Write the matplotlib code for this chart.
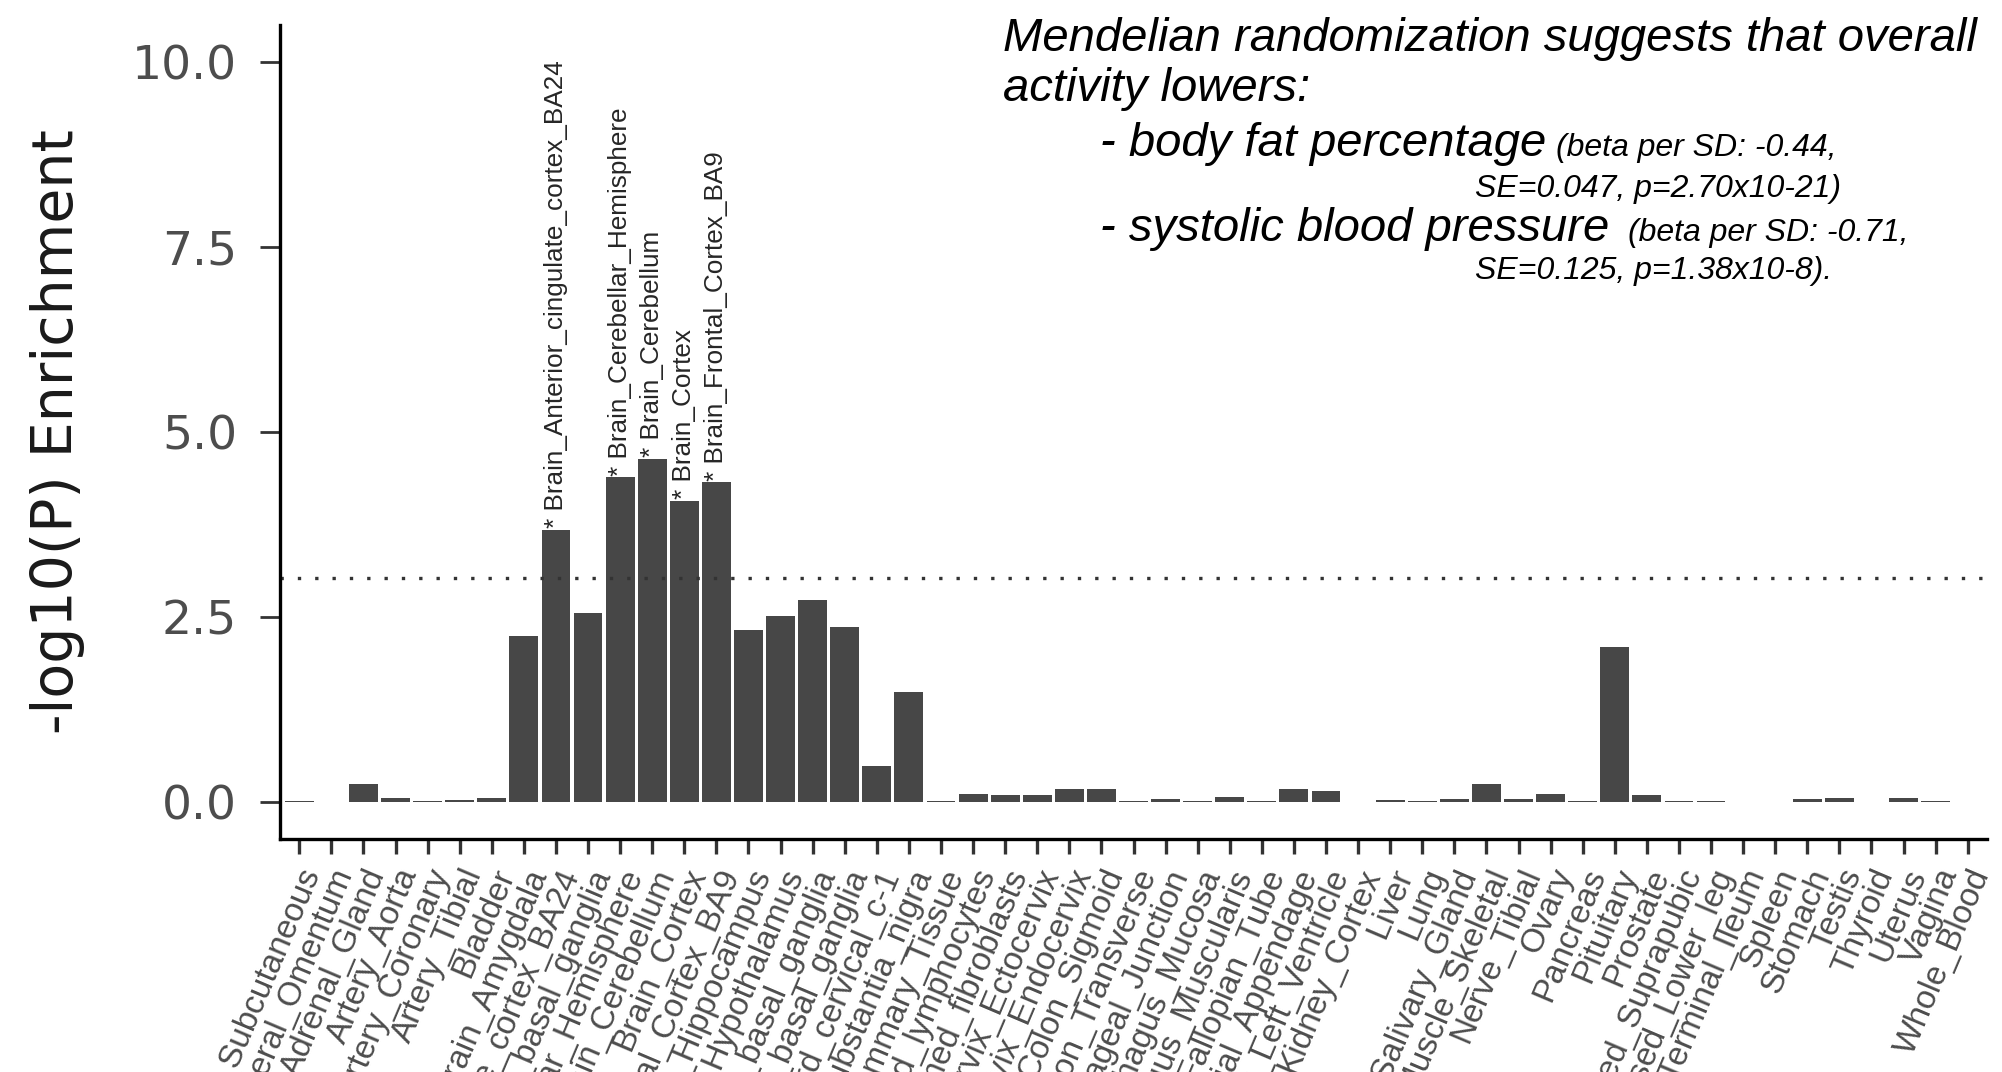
# GTEx tissue enrichment bar chart with MR note

import matplotlib
matplotlib.use('Agg')
import matplotlib.pyplot as plt

plt.rcParams['font.family'] = ['Liberation Sans', 'DejaVu Sans']

# ============================================
# DATA
# ============================================

tissues = ['Adipose_Subcutaneous', 'Adipose_Visceral_Omentum', 'Adrenal_Gland',
           'Artery_Aorta', 'Artery_Coronary', 'Artery_Tibial', 'Bladder',
           'Brain_Amygdala', 'Brain_Anterior_cingulate_cortex_BA24',
           'Brain_Caudate_basal_ganglia', 'Brain_Cerebellar_Hemisphere',
           'Brain_Cerebellum', 'Brain_Cortex', 'Brain_Frontal_Cortex_BA9',
           'Brain_Hippocampus', 'Brain_Hypothalamus',
           'Brain_Nucleus_accumbens_basal_ganglia', 'Brain_Putamen_basal_ganglia',
           'Brain_Spinal_cord_cervical_c-1', 'Brain_Substantia_nigra',
           'Breast_Mammary_Tissue', 'Cells_EBV-transformed_lymphocytes',
           'Cells_Transformed_fibroblasts', 'Cervix_Ectocervix', 'Cervix_Endocervix',
           'Colon_Sigmoid', 'Colon_Transverse', 'Esophagus_Gastroesophageal_Junction',
           'Esophagus_Mucosa', 'Esophagus_Muscularis', 'Fallopian_Tube',
           'Heart_Atrial_Appendage', 'Heart_Left_Ventricle', 'Kidney_Cortex',
           'Liver', 'Lung', 'Minor_Salivary_Gland', 'Muscle_Skeletal', 'Nerve_Tibial',
           'Ovary', 'Pancreas', 'Pituitary', 'Prostate',
           'Skin_Not_Sun_Exposed_Suprapubic', 'Skin_Sun_Exposed_Lower_leg',
           'Small_Intestine_Terminal_Ileum', 'Spleen', 'Stomach', 'Testis',
           'Thyroid', 'Uterus', 'Vagina', 'Whole_Blood']

# -log10(P)
enrichment = [0.01, 0.003, 0.25, 0.06, 0.02, 0.03, 0.06,
              2.24, 3.68, 2.56, 4.39, 4.64, 4.07, 4.32, 2.32, 2.51, 2.73, 2.36, 0.49, 1.48,
              0.01, 0.11, 0.09, 0.09, 0.17, 0.17, 0.01, 0.045, 0.01, 0.07, 0.02, 0.17, 0.15,
              0.005, 0.025, 0.01, 0.045, 0.25, 0.04, 0.11, 0.02,
              2.10, 0.09, 0.02, 0.02, 0.005, 0.003, 0.035, 0.06, 0.005, 0.06, 0.02, 0.005]

# Bonferroni line: -log10(0.05 / 53)
threshold = 3.025

yticks = [0.0, 2.5, 5.0, 7.5, 10.0]

note_title = ['Mendelian randomization suggests that overall', 'activity lowers:']
note_traits = ['- body fat percentage', '- systolic blood pressure']
note_beta = ['(beta per SD: -0.44,', '(beta per SD: -0.71,']
note_stats = ['SE=0.047, p=2.70x10-21)', 'SE=0.125, p=1.38x10-8).']

# ============================================
# FIGURE
# ============================================

W, H = 2002, 1072
fig = plt.figure(figsize=(W / 100, H / 100), dpi=100)
ax = fig.add_axes([280 / W, 1 - 839 / H, 1707 / W, 814 / H])

x = list(range(len(tissues)))
ax.bar(x, enrichment, width=0.9, color='#474747', edgecolor='none')
ax.axhline(threshold, color='#333333', linewidth=2.4, linestyle=(0, (1, 4.2)))

# label the significant tissues
for i, v in enumerate(enrichment):
    if v > threshold:
        ax.annotate('* ' + tissues[i], xy=(i, v), xytext=(0, 1),
                    textcoords='offset points', rotation=90,
                    rotation_mode='anchor', ha='left', va='center',
                    fontsize=18.8, color='#262626')

ax.set_xlim(-0.6, len(tissues) - 0.4)
ax.set_ylim(-0.5, 10.5)

ax.set_xticks(x)
ax.set_xticklabels(tissues, rotation=67, ha='right', va='top',
                   rotation_mode='anchor', fontsize=24, color='#4d4d4d')
ax.set_yticks(yticks)
ax.set_yticklabels([f'{t:.1f}' for t in yticks], fontsize=34,
                   color='#4d4d4d', family='DejaVu Sans')

ax.tick_params(axis='x', length=11, width=2.4, pad=7, color='#333333')
ax.tick_params(axis='y', length=14.5, width=2.0, pad=16.5, color='#333333')

for side in ['top', 'right']:
    ax.spines[side].set_visible(False)
for side in ['left', 'bottom']:
    ax.spines[side].set_linewidth(2.4)
    ax.spines[side].set_color('black')

fig.text(73 / W, 1 - 432 / H, '-log10(P) Enrichment', rotation=90,
         rotation_mode='anchor', ha='center', va='baseline',
         fontsize=41, family='DejaVu Sans', color='#1a1a1a')

# ============================================
# MR NOTE (top right)
# ============================================

fig.text(1003 / W, 1 - 51 / H, note_title[0], fontsize=34, style='italic', va='baseline')
fig.text(1003 / W, 1 - 101 / H, note_title[1], fontsize=34, style='italic', va='baseline')

trait_y = [156, 241]
beta_x = [1556, 1628]
stats_y = [197, 279]
for k in range(2):
    fig.text(1100 / W, 1 - trait_y[k] / H, note_traits[k], fontsize=34,
             style='italic', va='baseline')
    fig.text(beta_x[k] / W, 1 - trait_y[k] / H, note_beta[k], fontsize=23,
             style='italic', va='baseline')
    fig.text(1475 / W, 1 - stats_y[k] / H, note_stats[k], fontsize=23,
             style='italic', va='baseline')

plt.savefig('out.png', dpi=100)
print("Saved out.png")
plt.close()
